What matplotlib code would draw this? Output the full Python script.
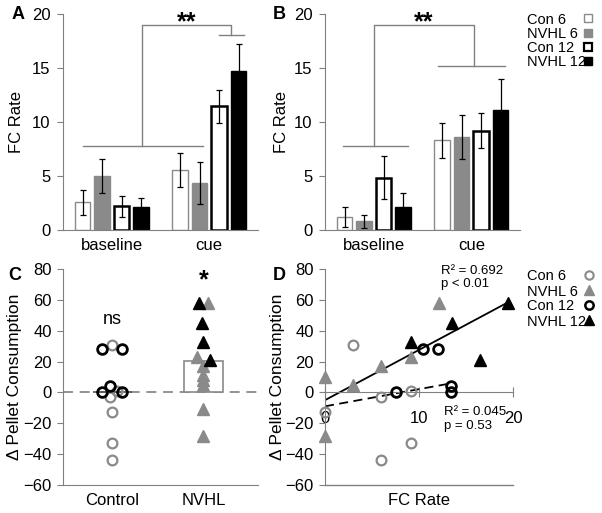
import numpy as np
import matplotlib
matplotlib.use('Agg')
import matplotlib.pyplot as plt
from matplotlib.lines import Line2D

plt.rcParams['font.family'] = ['Liberation Sans', 'DejaVu Sans']
plt.rcParams['font.size'] = 12
plt.rcParams['axes.edgecolor'] = '#808080'
plt.rcParams['xtick.color'] = '#808080'
plt.rcParams['ytick.color'] = '#808080'
plt.rcParams['xtick.labelcolor'] = 'black'
plt.rcParams['ytick.labelcolor'] = 'black'

GRAY = '#8a8a8a'
LINE = '#808080'
W, H = 602, 513

groups = ['Con 6', 'NVHL 6', 'Con 12', 'NVHL 12']
periods = ['baseline', 'cue']

# panel A: FC rate, mean and SEM
a_base = [2.55, 5.0, 2.2, 2.15]
a_base_err = [1.15, 1.6, 0.95, 0.85]
a_cue = [5.55, 4.35, 11.45, 14.75]
a_cue_err = [1.6, 1.95, 1.5, 2.5]

# panel B
b_base = [1.2, 0.8, 4.85, 2.1]
b_base_err = [0.95, 0.6, 2.0, 1.35]
b_cue = [8.3, 8.6, 9.2, 11.1]
b_cue_err = [1.6, 2.05, 1.6, 2.9]

# panel C: change in pellet consumption per rat
con6_y = [31, 1, -3, -13, -33, -44]
con6_dx = [0.0, 0.05, -0.02, 0.0, 0.0, 0.0]
con12_y = [28, 28, 4, 0, 0]
con12_dx = [-0.11, 0.11, -0.02, -0.11, 0.11]
nvhl6_y = [58, 23, 17, 11, 8, 5, -11, -28]
nvhl6_dx = [0.05, -0.07, 0.0, 0.0, 0.0, 0.0, 0.0, 0.0]
nvhl12_y = [58, 45, 33, 21]
nvhl12_dx = [-0.05, -0.01, 0.0, 0.07]
c_means = [0.3, 20.5]
c_labels = ['Control', 'NVHL']

# panel D: FC rate vs pellet consumption
con6_fc = [3.0, 6.0, 9.1, 9.1, 6.0, 0.0]
con6_d = [31, -3, 1, -33, -44, -13]
con12_fc = [10.4, 12.0, 7.5, 13.4, 13.4]
con12_d = [28, 28, 0, 4, 0]
nvhl6_fc = [12.1, 0.0, 3.0, 6.0, 9.1, 0.0]
nvhl6_d = [58, 10, 5, 17, 23, -28]
nvhl12_fc = [19.5, 13.5, 9.1, 16.5]
nvhl12_d = [58, 45, 33, 21]
fit_nvhl_x = [0, 19.5]
fit_nvhl_y = [-5, 58.5]
fit_con_x = [0, 13.5]
fit_con_y = [-9, 6]

face = ['white', GRAY, 'white', 'black']
edge = [GRAY, GRAY, 'black', 'black']
elw = [1.0, 1.0, 1.8, 1.0]


def px_axes(fig, left, top, right, bottom):
    return fig.add_axes([left / W, 1 - bottom / H, (right - left) / W, (bottom - top) / H])


def bar_panel(ax, base, base_err, cue, cue_err):
    pos_b = [1, 2, 3, 4]
    pos_c = [6, 7, 8, 9]
    for i in range(4):
        ax.bar([pos_b[i], pos_c[i]], [base[i], cue[i]], width=0.82,
               color=face[i], edgecolor=edge[i], linewidth=elw[i],
               yerr=[base_err[i], cue_err[i]],
               error_kw=dict(ecolor='black', elinewidth=0.9, capsize=2.5, capthick=0.9))
    ax.set_xlim(0, 10)
    ax.set_ylim(0, 20)
    ax.set_yticks([0, 5, 10, 15, 20])
    ax.set_xticks([2.5, 7.5])
    ax.set_xticklabels(periods)
    ax.tick_params(axis='x', length=0, pad=6)
    ax.tick_params(axis='y', length=4, pad=5)
    for s in ['top', 'right']:
        ax.spines[s].set_visible(False)
    ax.set_ylabel('FC Rate')


fig = plt.figure(figsize=(W / 100, H / 100), dpi=100)

# A
axA = px_axes(fig, 63, 14, 258, 230)
bar_panel(axA, a_base, a_base_err, a_cue, a_cue_err)
axA.yaxis.set_label_coords(-0.2, 0.5)
axA.plot([1.03, 7.18], [7.8, 7.8], color=LINE, lw=1)
axA.plot([4.05, 4.05, 8.6, 8.6], [7.8, 19.0, 19.0, 18.1], color=LINE, lw=1, clip_on=False)
axA.plot([8.0, 9.28], [18.1, 18.1], color=LINE, lw=1)
axA.text(6.36, 18.6, '**', ha='center', va='baseline', fontsize=18, fontweight='bold')

# B
axB = px_axes(fig, 325, 14, 520, 230)
bar_panel(axB, b_base, b_base_err, b_cue, b_cue_err)
axB.yaxis.set_label_coords(-0.185, 0.5)
axB.plot([0.92, 4.26], [7.8, 7.8], color=LINE, lw=1)
axB.plot([2.51, 2.51, 7.64, 7.64], [7.8, 19.0, 19.0, 15.2], color=LINE, lw=1, clip_on=False)
axB.plot([5.8, 9.23], [15.2, 15.2], color=LINE, lw=1)
axB.text(5.08, 18.6, '**', ha='center', va='baseline', fontsize=18, fontweight='bold')

# C
axC = px_axes(fig, 63, 269, 258, 485)
axC.axhline(0, color=LINE, lw=1.2, ls=(0, (6, 4)))
axC.bar([0, 1], c_means, width=0.43, color='white', edgecolor=['#555555', GRAY], linewidth=1.2, zorder=2)
axC.plot(np.array(con6_dx), con6_y, 'o', ms=7, mfc='none', mec=GRAY, mew=1.6, zorder=3)
axC.plot(np.array(con12_dx), con12_y, 'o', ms=7, mfc='none', mec='black', mew=2.0, zorder=3)
axC.plot(1 + np.array(nvhl6_dx), nvhl6_y, '^', ms=8, mfc=GRAY, mec=GRAY, zorder=3)
axC.plot(1 + np.array(nvhl12_dx), nvhl12_y, '^', ms=8, mfc='black', mec='black', zorder=4)
axC.set_xlim(-0.54, 1.6)
axC.set_ylim(-60, 80)
axC.set_yticks(range(-60, 81, 20))
axC.set_xticks([0, 1])
axC.set_xticklabels(c_labels)
axC.tick_params(axis='x', length=0, pad=6)
axC.tick_params(axis='y', length=4, pad=4)
for s in ['top', 'right']:
    axC.spines[s].set_visible(False)
axC.set_ylabel('\u0394 Pellet Consumption', fontsize=12.5)
axC.yaxis.set_label_coords(-0.21, 0.5)
axC.text(0, 47, 'ns', ha='center', va='center', fontsize=13)
axC.text(1, 68, '*', ha='center', va='baseline', fontsize=18, fontweight='bold')

# D
axD = px_axes(fig, 325, 269, 513, 485)
axD.plot(con6_fc, con6_d, 'o', ms=7, mfc='none', mec=GRAY, mew=1.6, clip_on=False, zorder=3)
axD.plot(nvhl6_fc, nvhl6_d, '^', ms=8, mfc=GRAY, mec=GRAY, clip_on=False, zorder=3)
axD.plot(con12_fc, con12_d, 'o', ms=7, mfc='none', mec='black', mew=2.0, clip_on=False, zorder=3)
axD.plot(nvhl12_fc, nvhl12_d, '^', ms=8, mfc='black', mec='black', clip_on=False, zorder=4)
axD.plot(fit_nvhl_x, fit_nvhl_y, color='black', lw=1.3, zorder=2)
axD.plot(fit_con_x, fit_con_y, color='black', lw=1.3, ls=(0, (5, 3)), zorder=2)
axD.set_xlim(0, 20)
axD.set_ylim(-60, 80)
axD.set_yticks(range(-60, 81, 20))
axD.set_xticks([0, 10, 20])
axD.spines['bottom'].set_position(('data', 0))
axD.axhline(-60, color=LINE, lw=1, clip_on=False)
for s in ['top', 'right']:
    axD.spines[s].set_visible(False)
axD.tick_params(axis='x', direction='inout', length=7, pad=10)
axD.tick_params(axis='y', length=4, pad=4)
axD.set_xlabel('FC Rate')
axD.xaxis.set_label_coords(0.5, -0.035)
axD.set_ylabel('\u0394 Pellet Consumption', fontsize=12.5)
axD.yaxis.set_label_coords(-0.215, 0.5)
axD.text(12.3, 79, 'R\u00b2 = 0.692', fontsize=9.5, va='center')
axD.text(12.3, 70, 'p < 0.01', fontsize=9.5, va='center')
axD.text(12.7, -13, 'R\u00b2 = 0.045', fontsize=9.5, va='center')
axD.text(12.7, -22, 'p = 0.53', fontsize=9.5, va='center')

# panel letters
for lab, x, y in [('A', 18, 15), ('B', 279, 15), ('C', 15, 275), ('D', 279, 275)]:
    fig.text(x / W, 1 - y / H, lab, fontsize=13, fontweight='bold', ha='center', va='center')

# legends
bar_marks = [dict(marker='s', ms=6, mfc='white', mec=GRAY, mew=1),
             dict(marker='s', ms=6, mfc=GRAY, mec=GRAY, mew=1),
             dict(marker='s', ms=6, mfc='white', mec='black', mew=1.6),
             dict(marker='s', ms=6, mfc='black', mec='black', mew=1)]
pt_marks = [dict(marker='o', ms=6, mfc='none', mec=GRAY, mew=1.5),
            dict(marker='^', ms=7, mfc=GRAY, mec=GRAY),
            dict(marker='o', ms=6, mfc='none', mec='black', mew=1.8),
            dict(marker='^', ms=7, mfc='black', mec='black')]
for marks, rows, xm in [(bar_marks, [18, 32.5, 47, 61], 588), (pt_marks, [275, 290, 305, 320], 589)]:
    for lab, st, y in zip(groups, marks, rows):
        fig.text(527 / W, 1 - y / H, lab, fontsize=10.5, ha='left', va='center_baseline')
        fig.add_artist(Line2D([xm / W], [1 - y / H], transform=fig.transFigure, linestyle='none', **st))

fig.savefig('out.png', dpi=100)
